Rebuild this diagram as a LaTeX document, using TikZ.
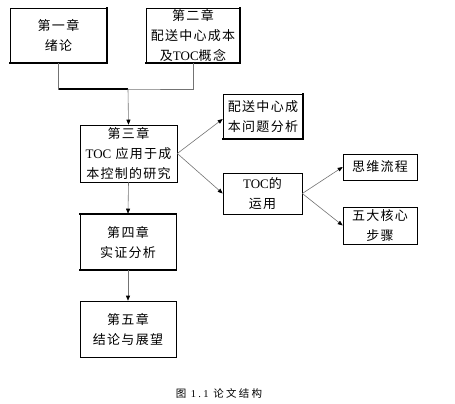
\documentclass[tikz,border=0pt]{standalone}
\usepackage{fontspec}
\setmainfont{Liberation Serif}
\newfontfamily\cjk[LetterSpace=10]{Noto Sans CJK SC}
\newfontfamily\capfont[LetterSpace=22]{Noto Sans CJK SC}
\newfontfamily\caplat[LetterSpace=22]{Liberation Serif}
\usetikzlibrary{arrows.meta}
\newcommand{\lat}[1]{{\rmfamily #1}}
\begin{document}
\begin{tikzpicture}[x=1pt,y=-1pt,
  box/.style={draw, line width=0.6pt, align=center, inner sep=0pt,
    font=\cjk\fontsize{13}{20}\selectfont},
  conn/.style={draw=black!55, line width=0.6pt},
  arr/.style={conn, -{Triangle[length=5pt,width=4pt,color=black]}},
  shad/.style={line width=1.8pt, line cap=rect}]
\useasboundingbox (0,0) rectangle (455,404);
\node[box, minimum width=97pt, minimum height=55pt] (b1) at (58.5,35.5) {第一章\\绪论};
\node[box, minimum width=94pt, minimum height=55pt] (b2) at (193,35.5) {第二章\\配送中心成本\\及\lat{TOC}概念};
\node[box, minimum width=97pt, minimum height=57pt] (b3) at (128.5,153.5) {第三章\\\lat{TOC} 应用于成\\本控制的研究};
\node[box, minimum width=80pt, minimum height=45pt] (bp) at (263,116.5) {配送中心成\\本问题分析};
\node[box, minimum width=79pt, minimum height=41pt] (bt) at (262.5,193.5) {\lat{TOC}的\\运用};
\node[box, minimum width=74pt, minimum height=26pt] (bs) at (380,167) {思维流程};
\node[box, minimum width=74pt, minimum height=37pt] (bw) at (380,225.5) {五大核心\\步骤};
\node[box, minimum width=96pt, minimum height=56pt] (b4) at (128,242) {第四章\\实证分析};
\node[box, minimum width=96pt, minimum height=56pt] (b5) at (128,329) {第五章\\结论与展望};
\node[font=\capfont\fontsize{10.5}{12}\selectfont] (cap) at (219,393) {图 {\caplat 1.1} 论文结构};
% shadows
\draw[shad] (b1.north east) -- (b1.south east) -- (b1.south west);
\draw[shad] (b2.north east) -- (b2.south east) -- (b2.south west);
\draw[shad] (bp.north east) -- (bp.south east) -- (bp.south west);
\draw[line width=1.1pt] (bt.south east) -- (bt.south west);
\draw[shad] (b4.north west) -- (b4.north east);
\draw[shad] (b4.south west) -- (b4.south east);
% connectors
\coordinate (jn) at (128,89);
\draw[conn] (b1.south) |- (jn) -| (b2.south);
\draw[line width=1.6pt] (b1.south |- jn) -- (jn);
\draw[arr] (jn) -- (b3.north);
\draw[arr] (b3.east) -- ([yshift=-2.5pt]bp.west);
\draw[arr] (b3.east) -- (bt.west);
\draw[arr] (bt.east) -- (bs.west);
\draw[arr] (bt.east) -- (bw.west);
\draw[arr] (b3.south) -- (b4.north);
\draw[arr] (b4.south) -- (b5.north);
\end{tikzpicture}
\end{document}
